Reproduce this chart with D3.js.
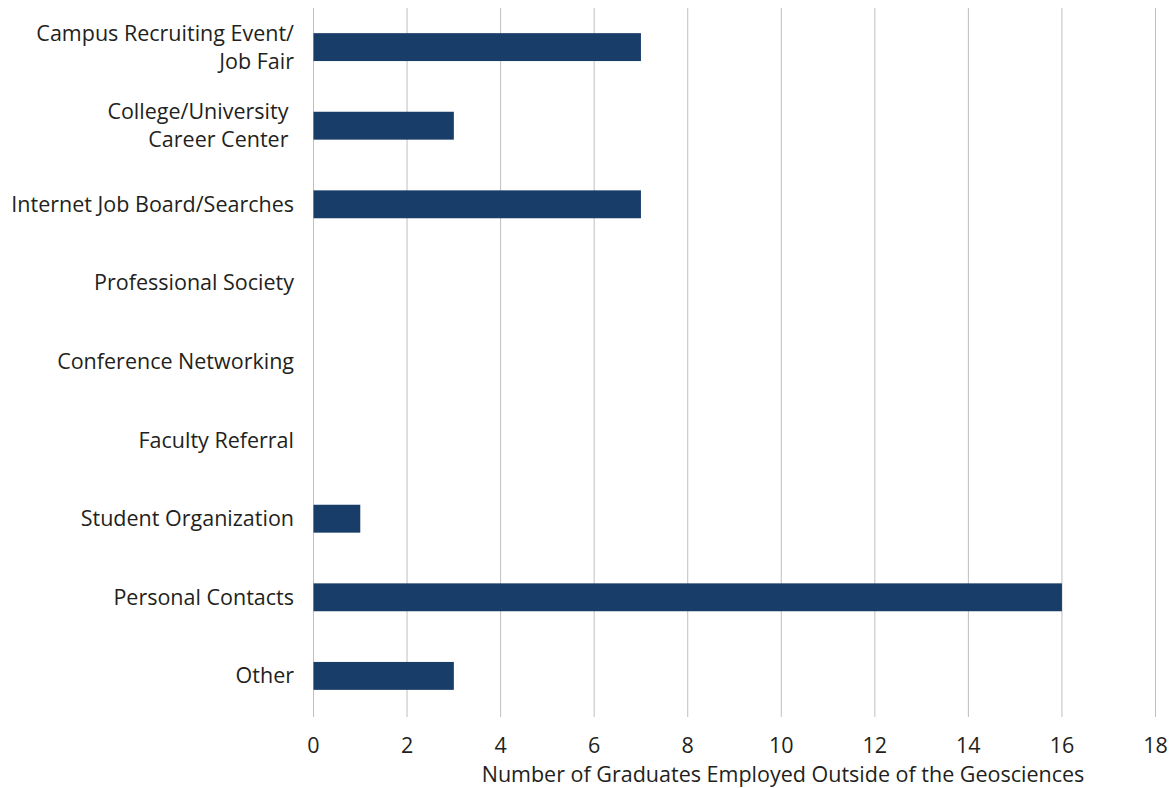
<!DOCTYPE html>
<html><head><meta charset="utf-8">
<script src="https://cdn.jsdelivr.net/npm/d3@7"></script>
<style>body{margin:0;background:#fff}svg text{font-family:"Open Sans","Noto Sans",sans-serif;fill:#231f20;white-space:pre}</style>
</head><body><svg id="c" width="1173" height="788"></svg>
<script>
const categories = [
  ["Campus Recruiting Event/", "Job Fair"],
  ["College/University ", "Career Center "],
  ["Internet Job Board/Searches"],
  ["Professional Society"],
  ["Conference Networking"],
  ["Faculty Referral"],
  ["Student Organization"],
  ["Personal Contacts"],
  ["Other"]
];
const values = [7, 3, 7, 0, 0, 0, 1, 16, 3];
const xTicks = [0, 2, 4, 6, 8, 10, 12, 14, 16, 18];
const xTitle = "Number of Graduates Employed Outside of the Geosciences";

(function () {
const svg = d3.select("#c");
const mLeft = 313.5, mRight = 1155.5, mTop = 8, mBottom = 715;
const fs = 21.5;
const x = d3.scaleLinear().domain([0, 18]).range([mLeft, mRight]);
const y = d3.scaleBand().domain(d3.range(categories.length)).range([mTop, mBottom]).paddingInner(0.645).paddingOuter(0.32);

svg.append("g").selectAll("line").data(xTicks).join("line")
  .attr("x1", d => x(d)).attr("x2", d => x(d))
  .attr("y1", mTop).attr("y2", 717)
  .attr("stroke", "#bfbfbf").attr("stroke-width", 1);

svg.append("g").selectAll("rect").data(values).join("rect")
  .attr("x", x(0)).attr("y", (d, i) => y(i))
  .attr("width", d => x(d) - x(0)).attr("height", y.bandwidth())
  .attr("fill", "#193d69");

const lab = svg.append("g").selectAll("text").data(categories).join("text")
  .attr("text-anchor", "end").attr("font-size", fs);
lab.each(function (lines, i) {
  const cy = y(i) + y.bandwidth() / 2;
  const n = lines.length, lh = 28;
  d3.select(this).selectAll("tspan").data(lines).join("tspan")
    .attr("x", 294)
    .attr("y", (d, j) => cy + (j - (n - 1) / 2) * lh + 7.5)
    .text(d => d);
});

svg.append("g").selectAll("text").data(xTicks).join("text")
  .attr("x", d => x(d)).attr("y", 753).attr("text-anchor", "middle")
  .attr("font-size", fs).text(d => d);

svg.append("text").attr("x", 783).attr("y", 782).attr("text-anchor", "middle")
  .attr("font-size", fs).text(xTitle);
})();
</script></body></html>
